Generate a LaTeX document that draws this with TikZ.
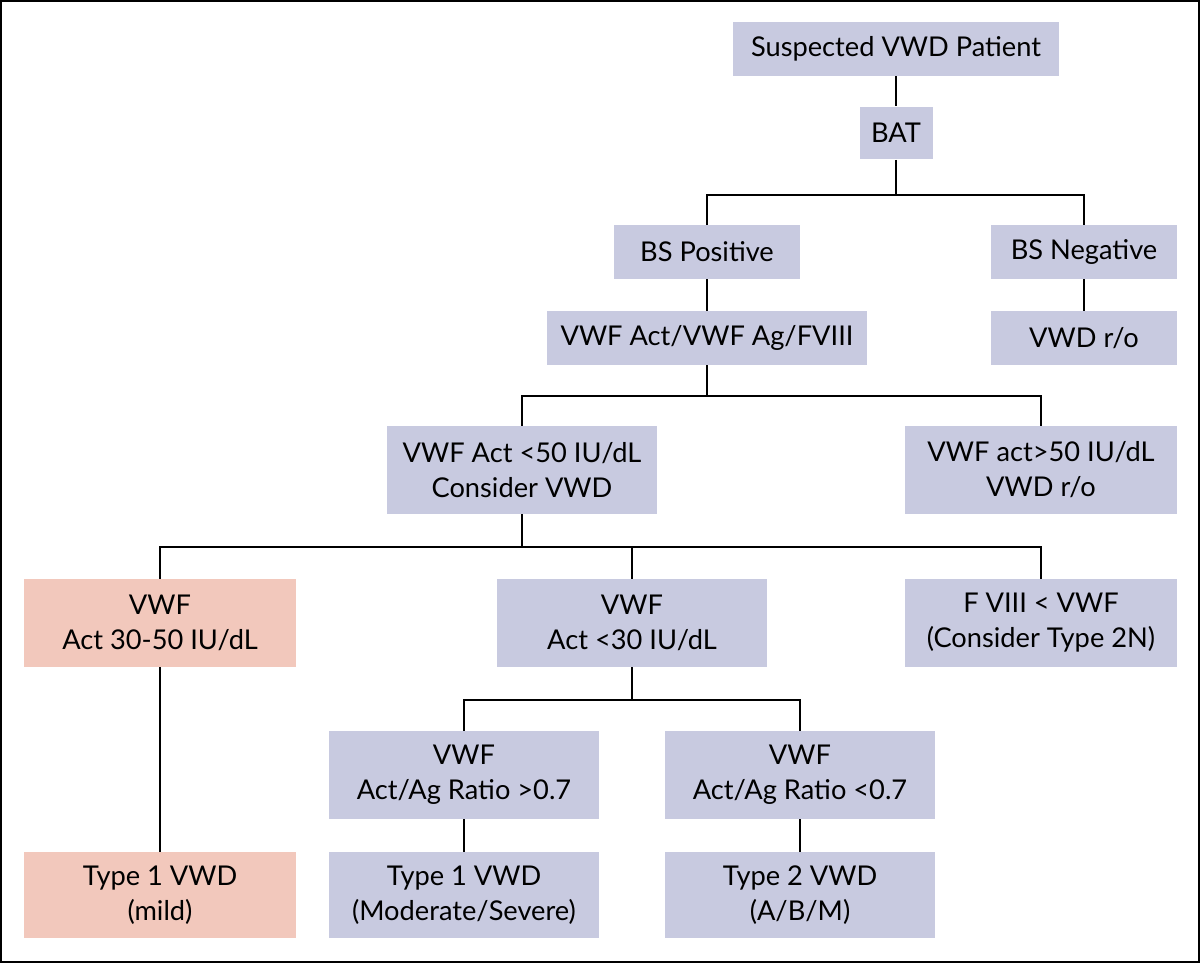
\documentclass[tikz,border=0pt]{standalone}
\usepackage{fontspec}
\setmainfont{Lato}
\begin{document}
\begin{tikzpicture}[x=0.02cm,y=-0.02cm,
 box/.style={fill=#1,draw=none,align=center,inner sep=0pt,font=\fontsize{15.5}{20}\selectfont},
 b/.style={box=bluebox},p/.style={box=pinkbox},
 ln/.style={line width=1.6pt}]
\definecolor{bluebox}{HTML}{C8CAE0}
\definecolor{pinkbox}{HTML}{F2C8BC}
\useasboundingbox (0,0) rectangle (1200,963);
\draw[line width=1pt] (1,1) rectangle (1199,962);
\node[b,minimum width=6.54cm,minimum height=1.08cm] (sus) at (896,49) {Suspected VWD Patient};
\node[b,minimum width=1.46cm,minimum height=1.06cm] (bat) at (896,133) {BAT};
\node[b,minimum width=3.72cm,minimum height=1.08cm] (bsp) at (707,252) {BS Positive};
\node[b,minimum width=3.72cm,minimum height=1.08cm] (bsn) at (1084,252) {BS Negative};
\node[b,minimum width=6.4cm,minimum height=1.08cm] (act) at (707,338) {VWF Act/VWF Ag/FVIII};
\node[b,minimum width=3.72cm,minimum height=1.08cm] (ro) at (1084,338) {VWD r/o};
\node[b,minimum width=5.4cm,minimum height=1.76cm] (lt50) at (522,470) {VWF Act <50 IU/dL\\Consider VWD};
\node[b,minimum width=5.44cm,minimum height=1.76cm] (gt50) at (1041,470) {VWF act>50 IU/dL\\VWD r/o};
\node[p,minimum width=5.44cm,minimum height=1.76cm] (mid) at (160,623) {VWF\\Act 30-50 IU/dL};
\node[b,minimum width=5.4cm,minimum height=1.76cm] (lt30) at (632,623) {VWF\\Act <30 IU/dL};
\node[b,minimum width=5.44cm,minimum height=1.76cm] (f8) at (1041,623) {F VIII < VWF\\(Consider Type 2N)};
\node[b,minimum width=5.42cm,minimum height=1.76cm] (rg) at (464,775) {VWF\\Act/Ag Ratio >0.7};
\node[b,minimum width=5.4cm,minimum height=1.76cm] (rl) at (800,775) {VWF\\Act/Ag Ratio <0.7};
\node[p,minimum width=5.44cm,minimum height=1.72cm] (t1m) at (160,895) {Type 1 VWD\\(mild)};
\node[b,minimum width=5.42cm,minimum height=1.72cm] (t1s) at (464,895) {Type 1 VWD\\(Moderate/Severe)};
\node[b,minimum width=5.4cm,minimum height=1.72cm] (t2) at (800,895) {Type 2 VWD\\(A/B/M)};
\draw[ln] (sus.south) -- (bat.north);
\draw[ln] (bat.south) -- (bat.south |- 0,195);
\draw[ln] (bsp.north) |- (bsn.north |- 0,195) -- (bsn.north);
\draw[ln] (bsp.south) -- (act.north);
\draw[ln] (bsn.south) -- (ro.north);
\draw[ln] (act.south) -- (act.south |- 0,396);
\draw[ln] (lt50.north) |- (gt50.north |- 0,396) -- (gt50.north);
\draw[ln] (lt50.south) -- (lt50.south |- 0,547);
\draw[ln] (mid.north) |- (f8.north |- 0,547) -- (f8.north);
\draw[ln] (lt30.north) -- (lt30.north |- 0,547);
\draw[ln] (lt30.south) -- (lt30.south |- 0,700);
\draw[ln] (rg.north) |- (rl.north |- 0,700) -- (rl.north);
\draw[ln] (mid.south) -- (t1m.north);
\draw[ln] (rg.south) -- (t1s.north);
\draw[ln] (rl.south) -- (t2.north);
\end{tikzpicture}
\end{document}
